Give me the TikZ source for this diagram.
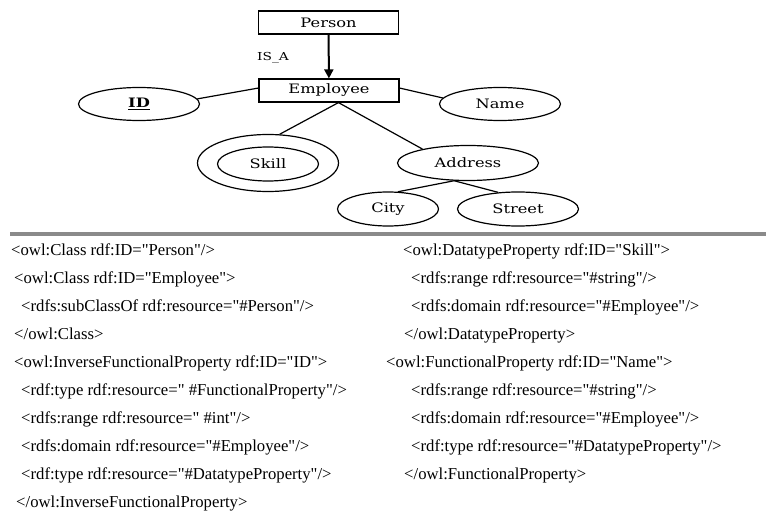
\documentclass[tikz,border=0pt]{standalone}
\usepackage{fontspec}
\newfontfamily\codefont{Liberation Serif}
\newfontfamily\diagfont[FakeStretch=1.25]{DejaVu Serif}
\usetikzlibrary{shapes.geometric,arrows.meta}
\definecolor{rulegray}{RGB}{138,138,138}

\tikzset{
  entity/.style={draw, line width=1.2pt, minimum width=140pt, minimum height=23pt,
    inner sep=0pt, font=\diagfont\fontsize{13}{15}\selectfont},
  attr/.style={draw, ellipse, line width=1.2pt, inner sep=0pt,
    font=\diagfont\fontsize{13}{15}\selectfont},
  link/.style={line width=1.2pt},
  isa/.style={line width=2pt, -{Triangle[length=9pt,width=9pt]}},
  code/.style={anchor=west, inner sep=0pt, text height=12pt, text depth=4pt,
    font=\codefont\fontsize{16.7}{20}\selectfont}
}

\begin{document}
\begin{tikzpicture}[x=1pt,y=-1pt]
  \useasboundingbox (0,0) rectangle (766,513);

  % entities
  \node[entity] (person) at (328.5,22.5) {Person};
  \node[entity] (emp) at (329,90.5) {Employee};
  \node[font=\diagfont\fontsize{11}{13}\selectfont] (isa) at (273,58) {IS\_A};

  % attributes
  \node[attr, minimum width=121pt, minimum height=33pt] (id) at (139,104) {\underline{\textbf{ID}}};
  \node[attr, minimum width=121pt, minimum height=33pt] (name) at (500,104) {Name};
  \node[attr, minimum width=141pt, minimum height=57pt] (skillout) at (268,163) {};
  \node[attr, minimum width=101pt, minimum height=34pt] (skill) at (268,164) {Skill};
  \node[attr, minimum width=141pt, minimum height=35pt] (addr) at (468,163) {Address};
  \node[attr, minimum width=101pt, minimum height=34pt] (city) at (388,209) {City};
  \node[attr, minimum width=121pt, minimum height=34pt] (street) at (518,209) {Street};

  % links
  \draw[isa] (person) -- (emp);
  \draw[link] (emp.178) -- (id.5);
  \draw[link] (emp.2) -- (name.174);
  \draw[link] (emp.-52) -- (skillout.68);
  \draw[link] (emp.-52) -- (addr.163);
  \draw[link] (addr.232) -- (city.60);
  \draw[link] (addr.232) -- (street.140);

  % separator
  \coordinate (ruleL) at (10,234);
  \coordinate (ruleR) at (766,234);
  \draw[rulegray, line width=4pt] (ruleL) -- (ruleR);

  % OWL listing, left column
  \node[code] (l1) at (11,252) {<owl:Class rdf:ID="Person"/>};
  \node[code] (l2) at (14,279.9) {<owl:Class rdf:ID="Employee">};
  \node[code] (l3) at (21,307.8) {<rdfs:subClassOf rdf:resource="\#Person"/>};
  \node[code] (l4) at (14,335.7) {</owl:Class>};
  \node[code] (l5) at (14,363.6) {<owl:InverseFunctionalProperty rdf:ID="ID">};
  \node[code] (l6) at (21,391.5) {<rdf:type rdf:resource=" \#FunctionalProperty"/>};
  \node[code] (l7) at (21,419.4) {<rdfs:range rdf:resource=" \#int"/>};
  \node[code] (l8) at (21,447.3) {<rdfs:domain rdf:resource="\#Employee"/>};
  \node[code] (l9) at (21,475.2) {<rdf:type rdf:resource="\#DatatypeProperty"/>};
  \node[code] (l10) at (16,503.1) {</owl:InverseFunctionalProperty>};

  % OWL listing, right column
  \node[code] (r1) at (403,252) {<owl:DatatypeProperty rdf:ID="Skill">};
  \node[code] (r2) at (411,279.9) {<rdfs:range rdf:resource="\#string"/>};
  \node[code] (r3) at (411,307.8) {<rdfs:domain rdf:resource="\#Employee"/>};
  \node[code] (r4) at (404,335.7) {</owl:DatatypeProperty>};
  \node[code] (r5) at (386,363.6) {<owl:FunctionalProperty rdf:ID="Name">};
  \node[code] (r6) at (411,391.5) {<rdfs:range rdf:resource="\#string"/>};
  \node[code] (r7) at (411,419.4) {<rdfs:domain rdf:resource="\#Employee"/>};
  \node[code] (r8) at (411,447.3) {<rdf:type rdf:resource="\#DatatypeProperty"/>};
  \node[code] (r9) at (404,475.2) {</owl:FunctionalProperty>};
\end{tikzpicture}
\end{document}
